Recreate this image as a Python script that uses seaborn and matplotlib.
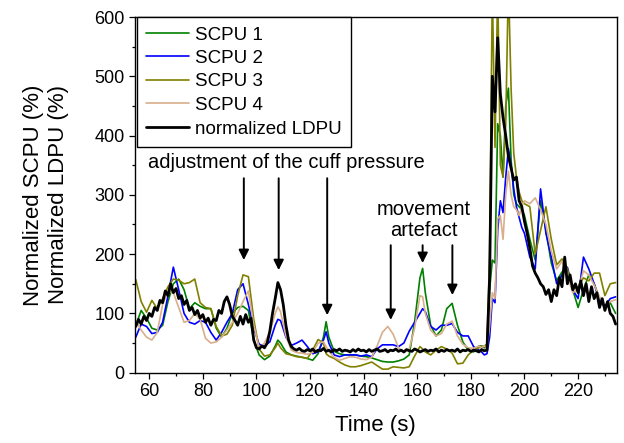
import numpy as np
import pandas as pd
import matplotlib
matplotlib.use("Agg")
import matplotlib.pyplot as plt
import seaborn as sns
from matplotlib.ticker import MultipleLocator

# ---------------- data ----------------
scpu_time = [55, 57, 59, 61, 63, 65, 67, 69, 71, 73, 75, 77, 79, 81, 83, 85, 87, 89, 91, 93,
             95, 97, 99, 101, 103, 105, 107,
             108,
             109, 111, 113, 115, 117, 119, 121, 123, 125,
             126,
             127, 129, 131, 133, 135, 137, 139, 141, 143, 145, 147, 149, 151, 153, 155, 157, 159, 161,
             162,
             163, 165, 167, 169, 171, 173, 175, 177, 179, 181, 183,
             184, 185, 186, 187, 188, 189, 190, 191, 192, 193, 194, 195, 196, 197, 198, 199, 200,
             202, 204, 206, 208, 210, 212, 214, 216, 218, 220, 222, 224, 226, 228, 230, 232, 234]

scpu1 = [80, 105, 92, 75, 72, 80, 120, 150, 158, 140, 108, 118, 112, 108, 108, 75, 60, 75, 100, 110,
         112, 105, 55, 30, 22, 28, 45,
         55,
         50, 35, 30, 28, 26, 24, 21, 32, 60,
         86,
         60, 36, 32, 30, 30, 30, 28, 27, 25, 22, 19, 18, 18, 20, 23, 30, 85, 160,
         176,
         135, 80, 62, 72, 108, 117, 80, 52, 38, 35, 45,
         45, 42, 48, 140, 190, 185, 420, 400, 330, 450, 480, 360, 300, 285, 280, 275, 265,
         225, 190, 290, 240, 185, 155, 170, 175, 140, 110, 140, 165, 150, 125, 110, 118, 100]

scpu2 = [60, 82, 78, 66, 68, 85, 130, 178, 140, 100, 85, 82, 88, 85, 68, 55, 68, 85, 100, 140,
         150, 115, 75, 48, 45, 52, 80,
         90,
         88, 60, 46, 50, 55, 44, 32, 35, 55,
         69,
         50, 30, 27, 30, 30, 30, 28, 30, 27, 40, 47, 47, 47, 44, 50, 70, 85, 100,
         108,
         103, 78, 72, 80, 80, 83, 68, 62, 62, 44, 38,
         35, 30, 32, 60, 125, 118, 240, 290, 270, 330, 378, 350, 310, 280, 262, 245, 235,
         195, 175, 310, 235, 195, 150, 165, 178, 140, 125, 195, 175, 150, 120, 112, 125, 128]

scpu3 = [157, 120, 102, 122, 108, 125, 145, 158, 156, 150, 152, 158, 118, 110, 108, 78, 62, 65, 80, 130,
         165, 162, 90, 40, 28, 30, 42,
         50,
         42, 32, 30, 27, 26, 24, 38, 56, 50,
         32,
         28, 24, 18, 13, 10, 10, 12, 15, 18, 12, 6, 6, 10, 9, 8, 10, 28, 44,
         40,
         35, 30, 38, 44, 40, 33, 15, 16, 30, 38, 42,
         44, 45, 48, 200, 650, 380, 650, 350, 330, 420, 660, 480, 370, 330, 305, 290, 285,
         280, 200, 240, 280, 225, 182, 192, 175, 140, 145, 160, 155, 168, 168, 130, 150, 152]

scpu4 = [88, 72, 60, 55, 68, 115, 138, 135, 110, 85, 88, 100, 90, 58, 50, 52, 60, 72, 85, 100,
         120, 138, 80, 42, 50, 68, 100,
         111,
         103, 62, 38, 34, 33, 31, 34, 50, 52,
         44,
         36, 26, 21, 24, 27, 26, 23, 22, 26, 45, 68, 78, 65, 42, 34, 40, 75, 130,
         128,
         100, 72, 62, 66, 82, 87, 62, 48, 42, 41, 45,
         42, 45, 42, 80, 135, 125, 260, 265, 225, 300, 340, 300, 280, 275, 265, 280, 290,
         285, 295, 275, 250, 205, 175, 188, 165, 135, 140, 172, 165, 148, 128, 110, 120, 123]

ldpu_time = list(range(55, 235))
ldpu = [78, 90, 82, 95, 88, 100, 95, 110, 105, 122, 118, 138, 130, 150, 135, 142, 125, 130, 115, 122,
        105, 110, 98, 105, 92, 98, 85, 92, 80, 90, 88, 105, 100, 120, 128, 115, 95, 88, 80, 95,
        82, 98, 85, 92, 55, 42,
        40, 45, 42, 50, 70, 100, 125, 152, 140, 115, 80, 55, 44, 40, 38, 41, 37,
        36, 39, 37, 40, 35, 38, 37, 41, 36, 38,
        35, 39, 37, 40, 36, 38, 37, 35, 39, 36,
        40, 37, 38, 35, 39, 36, 38, 40, 36, 37,
        39, 35, 38, 37, 40, 36, 38, 35, 39, 37,
        36, 40, 38, 35, 37, 39, 36, 38, 37, 40,
        35, 38, 36, 39, 37, 38, 36, 40, 35, 38,
        37, 39, 36, 38, 37, 35, 39, 37, 38,
        160, 500, 440, 565, 470, 430, 400, 365, 345, 325, 330, 290, 280, 255, 235, 210, 180, 168, 160, 150,
        145, 132, 140, 120, 140, 130, 160, 145, 195, 150, 165, 140, 150, 135, 155, 130, 150, 120, 145, 125,
        135, 110, 125, 105, 120, 100, 95, 82]

series_names = ["SCPU 1", "SCPU 2", "SCPU 3", "SCPU 4", "normalized LDPU"]
series_colors = ["#008000", "#0000FF", "#808000", "#D9AE8A", "#000000"]
series_widths = [1.2, 1.2, 1.2, 1.2, 2.0]

x_ticks = [60, 80, 100, 120, 140, 160, 180, 200, 220]
y_ticks = [0, 100, 200, 300, 400, 500, 600]

assert len(ldpu) == len(ldpu_time)
for s in (scpu1, scpu2, scpu3, scpu4):
    assert len(s) == len(scpu_time)

# ---------------- style ----------------
sns.set_style("ticks")
plt.rcParams["font.family"] = ["Liberation Sans", "DejaVu Sans"]
plt.rcParams["text.color"] = "black"
plt.rcParams["axes.labelcolor"] = "black"
plt.rcParams["xtick.color"] = "black"
plt.rcParams["ytick.color"] = "black"

fig = plt.figure(figsize=(6.24, 4.43), dpi=100)
ax = fig.add_axes([135 / 624, 1 - 372.7 / 443, (616.7 - 135) / 624, (372.7 - 17) / 443])

data = [(scpu_time, scpu1), (scpu_time, scpu2), (scpu_time, scpu3), (scpu_time, scpu4), (ldpu_time, ldpu)]
for (t, v), name, col, lw in zip(data, series_names, series_colors, series_widths):
    df = pd.DataFrame({"time": t, "value": v})
    sns.lineplot(data=df, x="time", y="value", ax=ax, color=col, linewidth=lw,
                 label=name, estimator=None, sort=False)

ax.set_xlim(54.7, 234.4)
ax.set_ylim(0, 600)
ax.set_xticks(x_ticks)
ax.set_yticks(y_ticks)
ax.xaxis.set_minor_locator(MultipleLocator(10))
ax.yaxis.set_minor_locator(MultipleLocator(50))
ax.tick_params(which="major", direction="out", length=4.3, width=0.9, labelsize=13,
               top=False, right=False, color="black", labelcolor="black", pad=3)
ax.tick_params(which="minor", direction="out", length=2.5, width=0.9, top=False, right=False,
               color="black")
for sp in ax.spines.values():
    sp.set_visible(True)
    sp.set_color("black")
    sp.set_linewidth(1.0)

ax.set_xlabel("Time (s)", fontsize=16, labelpad=11, color="black")
ax.set_ylabel("Normalized SCPU (%)\nNormalized LDPU (%)", fontsize=16, labelpad=18,
              linespacing=1.25, color="black")

leg = ax.legend(loc="upper left", bbox_to_anchor=(0.004, 1.0), borderaxespad=0.0, fontsize=13.5,
                frameon=True, fancybox=False, edgecolor="black", framealpha=1.0,
                handlelength=2.3, handletextpad=0.3, labelspacing=0.34, borderpad=0.5)
leg.get_frame().set_linewidth(1.0)
for txt in leg.get_texts():
    txt.set_color("black")

# annotations
arrow_kw = dict(arrowstyle="-|>", color="black", lw=1.4, mutation_scale=15, shrinkA=0, shrinkB=0)
for x0, y0, y1 in [(95.3, 328, 190), (108.3, 328, 173), (126.4, 328, 97),
                   (150.1, 215, 89), (162.0, 215, 185), (173.1, 215, 131)]:
    ax.annotate("", xy=(x0, y1), xytext=(x0, y0), arrowprops=arrow_kw)

ax.text(111, 354, "adjustment of the cuff pressure", fontsize=14.5, ha="center", va="center",
        color="black")
ax.text(162.5, 257, "movement\nartefact", fontsize=14.5, ha="center", va="center",
        multialignment="center", linespacing=1.15, color="black")

fig.savefig("out.png", dpi=100)
